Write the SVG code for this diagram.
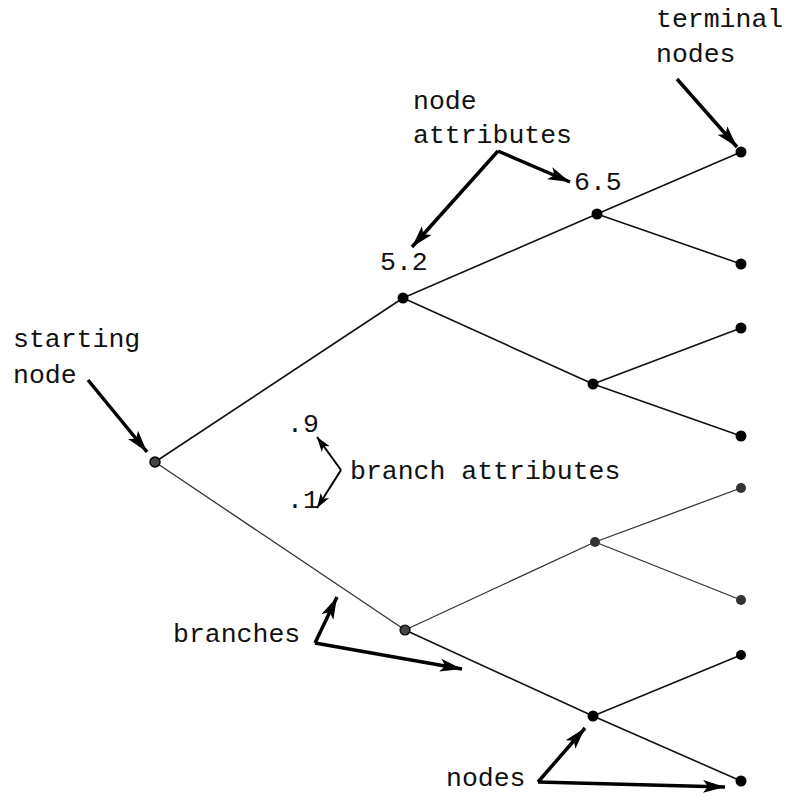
<svg xmlns="http://www.w3.org/2000/svg" width="789" height="798" viewBox="0 0 789 798">
<style>
.edge{stroke:#111;stroke-width:1.6;fill:none}
.edge2{stroke:#333;stroke-width:1.3;fill:none}
.dot{fill:#000}
.lbl{font-family:"Liberation Mono","DejaVu Sans Mono",monospace;font-size:26.5px;fill:#111}
.ann{stroke:#000;stroke-width:3.5;fill:none;stroke-linejoin:miter}
.ann2{stroke:#000;stroke-width:2;fill:none}
</style>
<defs>
<marker id="ah" markerUnits="userSpaceOnUse" markerWidth="24" markerHeight="16" viewBox="0 0 24 16" refX="22" refY="8" orient="auto">
<path d="M0,1.5 L22,8 L0,14.5 L5,8 Z" fill="#000"/>
</marker>
<marker id="ahs" markerUnits="userSpaceOnUse" markerWidth="16" markerHeight="12" viewBox="0 0 16 12" refX="15" refY="6" orient="auto">
<path d="M0,1 L15,6 L0,11 L4,6 Z" fill="#000"/>
</marker>
</defs>
<g id="connectors">
<line class="edge" x1="155" y1="462" x2="403" y2="298"/>
<line class="edge2" x1="155" y1="462" x2="405" y2="630"/>
<line class="edge" x1="403" y1="298" x2="597" y2="214"/>
<line class="edge" x1="403" y1="298" x2="593" y2="384"/>
<line class="edge" x1="597" y1="214" x2="741" y2="152"/>
<line class="edge" x1="597" y1="214" x2="741" y2="264"/>
<line class="edge" x1="593" y1="384" x2="741" y2="328"/>
<line class="edge" x1="593" y1="384" x2="741" y2="436"/>
<line class="edge2" x1="405" y1="630" x2="595" y2="542"/>
<line class="edge" x1="405" y1="630" x2="593" y2="716"/>
<line class="edge2" x1="595" y1="542" x2="741" y2="488"/>
<line class="edge2" x1="595" y1="542" x2="741" y2="600"/>
<line class="edge" x1="593" y1="716" x2="741" y2="655"/>
<line class="edge" x1="593" y1="716" x2="741" y2="781"/>
</g>
<g id="start"><circle cx="155" cy="462" r="5" fill="#444" stroke="#000" stroke-width="1.5"/></g>
<g id="nA"><circle class="dot" cx="403" cy="298" r="5.5"/></g>
<g id="nB"><circle cx="405" cy="630" r="5" fill="#444" stroke="#000" stroke-width="1.2"/></g>
<g id="nA1"><circle class="dot" cx="597" cy="214" r="5.5"/></g>
<g id="nA2"><circle class="dot" cx="593" cy="384" r="5.5"/></g>
<g id="nB1"><circle cx="595" cy="542" r="5" fill="#333"/></g>
<g id="nB2"><circle class="dot" cx="593" cy="716" r="5.5"/></g>
<g id="t1"><circle class="dot" cx="741" cy="152" r="5.5"/></g>
<g id="t2"><circle class="dot" cx="741" cy="264" r="5.5"/></g>
<g id="t3"><circle class="dot" cx="741" cy="328" r="5.5"/></g>
<g id="t4"><circle class="dot" cx="741" cy="436" r="5.5"/></g>
<g id="t5"><circle cx="741" cy="488" r="5" fill="#333"/></g>
<g id="t6"><circle cx="741" cy="600" r="5" fill="#333"/></g>
<g id="t7"><circle class="dot" cx="741" cy="655" r="5"/></g>
<g id="t8"><circle class="dot" cx="741" cy="781" r="5.5"/></g>
<g id="annotations">
<text class="lbl" x="656" y="27">terminal</text>
<text class="lbl" x="656" y="62">nodes</text>
<path class="ann" d="M677,79 L737,147" marker-end="url(#ah)"/>
<text class="lbl" x="413" y="109">node</text>
<text class="lbl" x="413" y="143">attributes</text>
<path class="ann" d="M498,151 L412,247" marker-end="url(#ah)"/>
<path class="ann" d="M498,151 L570,182" marker-end="url(#ah)"/>
<text class="lbl" x="574" y="190">6.5</text>
<text class="lbl" x="380" y="270">5.2</text>
<text class="lbl" x="13" y="347">starting</text>
<text class="lbl" x="13" y="383">node</text>
<path class="ann" d="M88,380 L147,452" marker-end="url(#ah)"/>
<text class="lbl" x="287" y="432">.9</text>
<text class="lbl" x="287" y="508">.1</text>
<text class="lbl" x="350" y="479">branch attributes</text>
<path class="ann2" d="M341,470 L317,437" marker-end="url(#ahs)"/>
<path class="ann2" d="M341,470 L317,508" marker-end="url(#ahs)"/>
<text class="lbl" x="173" y="642">branches</text>
<path class="ann" d="M315,643 L337,597" marker-end="url(#ah)"/>
<path class="ann" d="M315,643 L462,669" marker-end="url(#ah)"/>
<text class="lbl" x="446" y="786">nodes</text>
<path class="ann" d="M538,782 L585,728" marker-end="url(#ah)"/>
<path class="ann" d="M538,782 L725,787" marker-end="url(#ah)"/>
</g>
</svg>
